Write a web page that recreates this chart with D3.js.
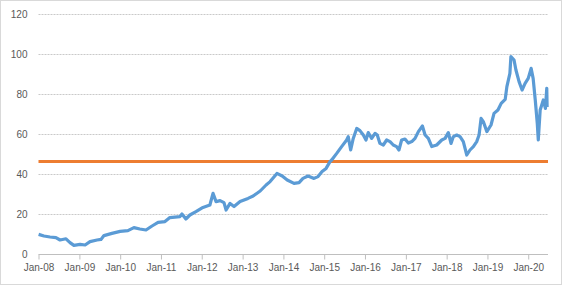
<!DOCTYPE html>
<html>
<head>
<meta charset="utf-8">
<script src="https://cdn.jsdelivr.net/npm/d3@7/dist/d3.min.js"></script>
<style>
  html, body { margin: 0; padding: 0; background: #fff; }
  svg { display: block; }
  text { font-family: "Liberation Sans", Arial, sans-serif; font-size: 10px; fill: #595959; }
</style>
</head>
<body>
<svg id="chart" width="562" height="286"></svg>
<script>
// ---- data ----
const dates = [
  "2008-01-02","2008-02-19","2008-04-13","2008-06-05","2008-07-12","2008-09-03","2008-10-09","2008-11-13",
  "2009-01-07","2009-02-21","2009-04-06","2009-06-08","2009-07-13","2009-08-09","2009-10-19",
  "2010-01-01","2010-03-11","2010-05-04","2010-06-26","2010-08-20","2010-10-13","2010-12-06",
  "2011-02-06","2011-03-22","2011-06-20","2011-07-08","2011-08-12","2011-09-17","2011-11-10",
  "2012-01-12","2012-03-14","2012-04-11","2012-05-08","2012-06-13","2012-07-18","2012-08-06","2012-09-10","2012-10-16","2012-12-09",
  "2013-02-18","2013-04-05","2013-06-07","2013-07-30","2013-09-04","2013-11-04","2013-12-21",
  "2014-02-04","2014-04-06","2014-05-21","2014-06-25","2014-08-09","2014-10-02","2014-11-07","2014-12-13",
  "2015-01-18","2015-02-22","2015-03-09","2015-04-23","2015-06-06","2015-07-21","2015-08-04","2015-08-26","2015-09-18","2015-10-19","2015-11-17","2015-12-17",
  "2016-01-10","2016-01-30","2016-03-01","2016-03-31","2016-04-20","2016-05-14","2016-06-13","2016-07-13","2016-08-12","2016-09-10","2016-10-10","2016-10-31","2016-11-24","2016-12-24",
  "2017-01-23","2017-02-23","2017-03-24","2017-04-23","2017-05-29","2017-06-22","2017-07-21","2017-08-21","2017-10-04","2017-11-18","2017-12-18",
  "2018-01-16","2018-02-09","2018-03-02","2018-04-01","2018-05-01","2018-05-30","2018-06-30","2018-07-29","2018-08-28","2018-09-27","2018-10-18","2018-11-05","2018-11-25","2018-12-27",
  "2019-02-02","2019-03-01","2019-04-05","2019-05-04","2019-06-09","2019-06-24","2019-07-21","2019-07-30","2019-08-27","2019-09-13","2019-10-11","2019-11-07","2019-12-04",
  "2020-01-01","2020-01-27","2020-02-14","2020-03-04","2020-03-22","2020-03-31","2020-04-17","2020-05-15","2020-06-03","2020-06-15","2020-06-18"
];
const prices = [
  9.8, 9.0, 8.5, 8.2, 7.0, 7.6, 5.7, 4.3,
  4.8, 4.5, 6.2, 7.0, 7.3, 9.2, 10.3,
  11.3, 11.7, 13.2, 12.5, 12.0, 14.0, 15.8,
  16.2, 18.2, 18.7, 20.0, 17.5, 19.5, 21.2,
  23.3, 24.5, 30.3, 26.2, 26.7, 25.7, 22.0, 25.3, 23.7, 26.2,
  27.8, 29.0, 31.5, 34.5, 36.2, 40.3, 39.0,
  37.0, 35.3, 35.7, 37.8, 39.0, 37.8, 38.7, 41.2,
  42.8, 46.2, 47.0, 50.3, 53.7, 57.0, 58.7, 52.0, 57.8, 62.8, 61.7, 59.5,
  57.0, 60.7, 57.8, 60.3, 59.5, 55.3, 54.5, 57.0, 56.2, 54.5, 53.7, 52.0, 57.0, 57.5,
  55.5, 56.2, 57.8, 61.2, 64.0, 59.5, 57.8, 53.7, 54.5, 57.0, 57.8,
  60.7, 55.3, 58.7, 59.5, 58.7, 56.2, 49.5, 52.0, 53.7, 56.2, 59.5, 67.8, 66.2, 61.2,
  64.5, 70.3, 72.0, 75.3, 77.3, 83.7, 90.3, 98.7, 97.0, 92.0, 86.2, 82.0, 85.3,
  87.8, 92.8, 87.8, 77.0, 65.3, 57.0, 72.0, 77.0, 72.8, 82.8, 73.5
];
const thresholdValue = 46.3;
const yTicks = [0, 20, 40, 60, 80, 100, 120];
const xTickDates = ["2008-01-01","2009-01-01","2010-01-01","2011-01-01","2012-01-01","2013-01-01","2014-01-01",
                    "2015-01-01","2016-01-01","2017-01-01","2018-01-01","2019-01-01","2020-01-01"];
const xDomain = ["2008-01-01", "2020-06-26"];

// ---- drawing ----
(function () {
  const parse = d3.utcParse("%Y-%m-%d");
  const fmt = d3.utcFormat("%b-%y");
  const svg = d3.select("#chart");
  const W = 562, H = 286;
  const pLeft = 38.5, pRight = 548, pTop = 14, pBottom = 254;

  svg.append("rect").attr("x", 0.5).attr("y", 0.5).attr("width", W - 1).attr("height", H - 2)
    .attr("fill", "#fff").attr("stroke", "#d9d9d9");

  const x = d3.scaleUtc().domain(xDomain.map(parse)).range([pLeft, pRight]);
  const y = d3.scaleLinear().domain([0, 120]).range([pBottom, pTop]);

  // gridlines
  svg.append("g").selectAll("line").data(yTicks.filter(v => v > 0)).join("line")
    .attr("x1", pLeft).attr("x2", pRight)
    .attr("y1", d => Math.round(y(d)) + 0.5).attr("y2", d => Math.round(y(d)) + 0.5)
    .attr("stroke", "#c9c9c9").attr("stroke-width", 1).attr("stroke-dasharray", "2,1");

  // y axis labels
  const yAxis = d3.axisLeft(y).tickValues(yTicks).tickSize(0).tickPadding(11);
  const gy = svg.append("g").attr("transform", `translate(${pLeft},0)`).call(yAxis);
  gy.select(".domain").remove();
  gy.selectAll("text").attr("fill", "#595959").style("font-size", "10px").style("font-family", "Liberation Sans, Arial, sans-serif");

  // x axis
  const xAxis = d3.axisBottom(x).tickValues(xTickDates.map(parse)).tickFormat(fmt).tickSize(5).tickPadding(4).tickSizeOuter(0);
  const gx = svg.append("g").attr("transform", `translate(0,${pBottom + 0.5})`).call(xAxis);
  gx.select(".domain").attr("stroke", "#bfbfbf").attr("d", `M${pLeft},0H${pRight}`);
  gx.selectAll(".tick line").attr("stroke", "#bfbfbf");
  gx.selectAll("text").attr("fill", "#595959").style("font-size", "10px").style("font-family", "Liberation Sans, Arial, sans-serif");

  // threshold line
  svg.append("line")
    .attr("x1", pLeft).attr("x2", pRight)
    .attr("y1", y(thresholdValue)).attr("y2", y(thresholdValue))
    .attr("stroke", "#ED7D31").attr("stroke-width", 3);

  // price line
  const series = dates.map((d, i) => ({ date: parse(d), value: prices[i] }));
  const line = d3.line().x(d => x(d.date)).y(d => y(d.value));
  svg.append("path").datum(series)
    .attr("fill", "none").attr("stroke", "#5B9BD5").attr("stroke-width", 3.2)
    .attr("stroke-linejoin", "round").attr("d", line);
})();
</script>
</body>
</html>
